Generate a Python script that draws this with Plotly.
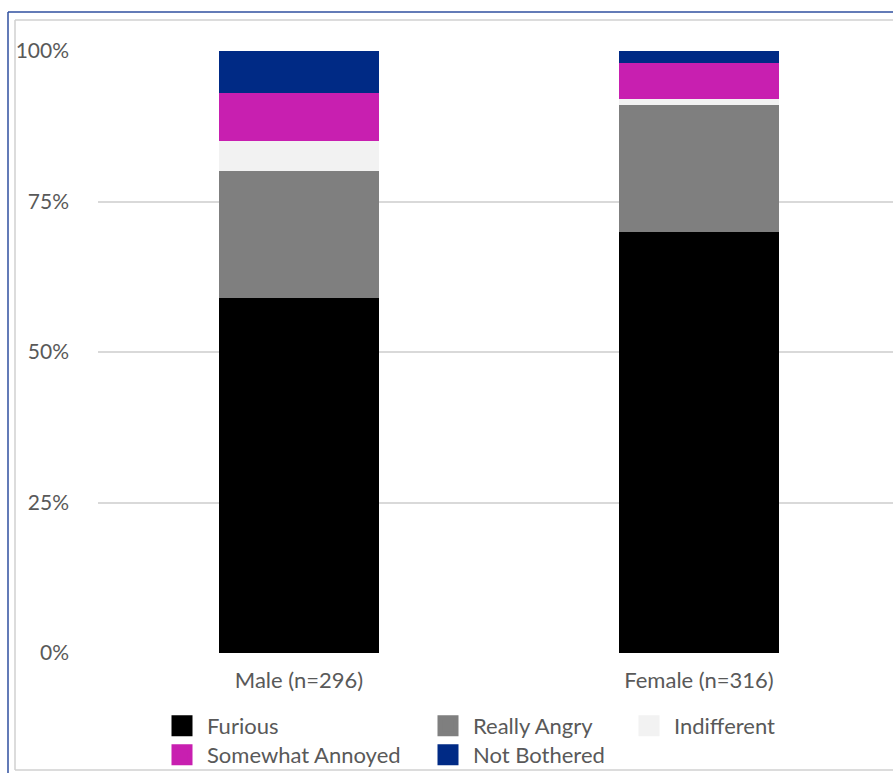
import plotly.graph_objects as go

categories = ["Male (n=296)", "Female (n=316)"]
series_names = ["Furious", "Really Angry", "Indifferent", "Somewhat Annoyed", "Not Bothered"]
furious = [59, 70]
really_angry = [21, 21]
indifferent = [5, 1]
somewhat_annoyed = [8, 6]
not_bothered = [7, 2]
y_tick_vals = [0, 0.25, 0.5, 0.75, 1.0]

series_values = [furious, really_angry, indifferent, somewhat_annoyed, not_bothered]
colors = ["#000000", "#7f7f7f", "#f2f2f2", "#c81fb0", "#002a85"]

# figure is a little taller than the window so the legends never push the margins;
# the overflow is hidden by the page
W, H = 893, 790
PLOT_L, PLOT_R, PLOT_T, PLOT_B = 98, 893, 51, 653  # screen px
L, R, T, B = PLOT_L, W - PLOT_R, PLOT_T, H - PLOT_B
PW, PH = W - L - R, H - T - B


def px_x(p):
    return (p - L) / PW


def px_y(p):
    return (PLOT_B - p) / PH


FONT = "Lato"
TXT = "#595959"
FS = 22
IW = 40

fig = go.Figure()
for name, vals, col in zip(series_names, series_values, colors):
    fig.add_trace(go.Bar(
        x=categories, y=[v / 100 for v in vals], name=name,
        marker=dict(color=col, line=dict(width=0)),
        showlegend=False,
    ))

# legend entries: (swatch center x px, row center y px)
legend_pos = [(182, 726), (448, 726), (649, 726), (182, 755), (448, 755)]
layout_legends = {}
for i, (name, col, (lx, ly)) in enumerate(zip(series_names, colors, legend_pos)):
    key = "legend" if i == 0 else f"legend{i+1}"
    fig.add_trace(go.Scatter(
        x=[None], y=[None], mode="markers", name=name,
        marker=dict(symbol="square", size=16, color=col, line=dict(width=5, color=col)),
        legend=key, showlegend=True,
    ))
    layout_legends[key] = dict(
        x=px_x(lx - IW / 2 - 5), y=px_y(ly), xanchor="left", yanchor="middle",
        bgcolor="rgba(0,0,0,0)", borderwidth=0,
        font=dict(family=FONT, size=FS, color=TXT),
        itemwidth=IW,
    )

shapes = [
    dict(type="line", xref="paper", yref="paper", x0=px_x(8), x1=px_x(8), y0=px_y(12), y1=px_y(800),
         line=dict(color="#2f4f9f", width=1.5)),
    dict(type="line", xref="paper", yref="paper", x0=px_x(8), x1=px_x(950), y0=px_y(12), y1=px_y(12),
         line=dict(color="#2f4f9f", width=1.5)),
    dict(type="line", xref="paper", yref="paper", x0=px_x(15), x1=px_x(15), y0=px_y(20), y1=px_y(770),
         line=dict(color="#d0d0d0", width=1.5)),
    dict(type="line", xref="paper", yref="paper", x0=px_x(15), x1=px_x(950), y0=px_y(20), y1=px_y(20),
         line=dict(color="#d0d0d0", width=1.5)),
    dict(type="line", xref="paper", yref="paper", x0=px_x(15), x1=px_x(950), y0=px_y(770), y1=px_y(770),
         line=dict(color="#d0d0d0", width=1.5)),
]

fig.update_layout(
    width=W, height=H,
    margin=dict(l=L, r=R, t=T, b=B, pad=0),
    paper_bgcolor="white", plot_bgcolor="white",
    barmode="stack", bargap=0.6,
    font=dict(family=FONT, size=FS, color=TXT),
    shapes=shapes,
    **layout_legends,
)
fig.update_xaxes(
    range=[-0.5025, 1.485], showgrid=False, zeroline=False, showline=False,
    tickfont=dict(family=FONT, size=FS, color=TXT), ticklabelstandoff=12,
)
fig.update_yaxes(
    range=[0, 1], tickvals=y_tick_vals, tickformat=".0%",
    showgrid=True, gridcolor="#d9d9d9", gridwidth=2, zeroline=False, showline=False,
    tickfont=dict(family=FONT, size=21, color=TXT), ticklabelstandoff=28,
)

fig.write_html(
    "out.html",
    config={"displayModeBar": False},
    post_script="document.body.style.margin='0';document.body.style.overflow='hidden';",
)
